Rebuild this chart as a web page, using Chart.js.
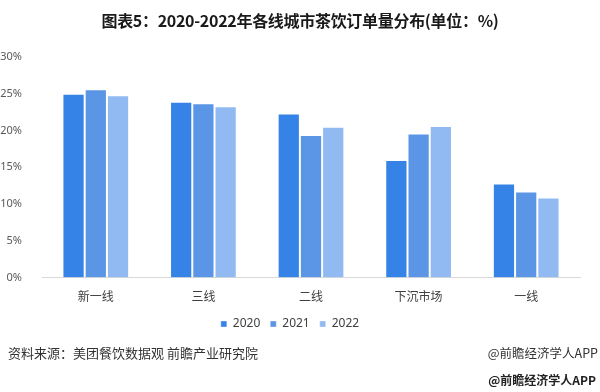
<!DOCTYPE html>
<html>
<head>
<meta charset="utf-8">
<script src="https://cdn.jsdelivr.net/npm/chart.js@4.4.0/dist/chart.umd.min.js"></script>
<style>
  body { margin:0; background:#fff; }
  .wrap { position:relative; width:600px; height:392px; overflow:hidden; font-family:"Noto Sans CJK SC","Noto Sans",sans-serif; }
  .title { position:absolute; top:8px; left:0; width:600px; text-align:center; font-size:16px; font-weight:bold; color:#1a1a1a; letter-spacing:-0.3px; }
  .source { position:absolute; left:8px; top:343px; font-size:13px; color:#333; }
  .app1 { position:absolute; right:2px; top:343px; font-size:12.5px; color:#333; }
  .app2 { position:absolute; right:4px; top:371px; font-size:12px; color:#222; font-weight:bold; }
  canvas { position:absolute; left:0; top:0; }
</style>
</head>
<body>
<div class="wrap">
  <canvas id="myChart" width="600" height="392"></canvas>
  <div class="title">图表5：2020-2022年各线城市茶饮订单量分布(单位：%)</div>
  <div class="source">资料来源：美团餐饮数据观 前瞻产业研究院</div>
  <div class="app1">@前瞻经济学人APP</div>
  <div class="app2">@前瞻经济学人APP</div>
</div>
<script>
const cities = ['新一线', '三线', '二线', '下沉市场', '一线'];
const years = ['2020', '2021', '2022'];
const v2020 = [25.0, 23.9, 22.3, 16.0, 12.8];
const v2021 = [25.6, 23.7, 19.4, 19.6, 11.7];
const v2022 = [24.8, 23.3, 20.5, 20.6, 10.9];
const colors = ['#3583e6', '#5b95e5', '#91baf2'];

const ctx = document.getElementById('myChart');

new Chart(ctx, {
  type: 'bar',
  data: {
    labels: cities,
    datasets: [v2020, v2021, v2022].map((d, i) => ({
      label: years[i],
      data: d,
      backgroundColor: colors[i],
      borderColor: 'rgba(255,255,255,0.35)',
      borderWidth: 1,
      borderSkipped: 'bottom',
      barPercentage: 1,
      categoryPercentage: 0.62
    }))
  },
  options: {
    responsive: false,
    animation: false,
    layout: { padding: { top: 57, right: 20, left: 0, bottom: 52 } },
    plugins: {
      title: { display: false },
      tooltip: { enabled: false },
      legend: {
        position: 'bottom',
        labels: {
          boxWidth: 6,
          boxHeight: 6,
          padding: 10,
          color: '#404040',
          font: { family: 'Noto Sans', size: 12 }
        }
      }
    },
    scales: {
      x: {
        grid: { display: false },
        border: { display: true, color: '#d9d9d9' },
        ticks: { color: '#404040', padding: 4, font: { family: 'Noto Sans CJK SC', size: 12 } }
      },
      y: {
        min: 0,
        max: 30,
        grid: { display: false },
        border: { display: false },
        afterFit: s => { s.width = 42; },
        ticks: {
          stepSize: 5,
          padding: 12,
          color: '#595959',
          font: { family: 'Noto Sans', size: 11 },
          callback: v => v + '%'
        }
      }
    }
  }
});
</script>
</body>
</html>
